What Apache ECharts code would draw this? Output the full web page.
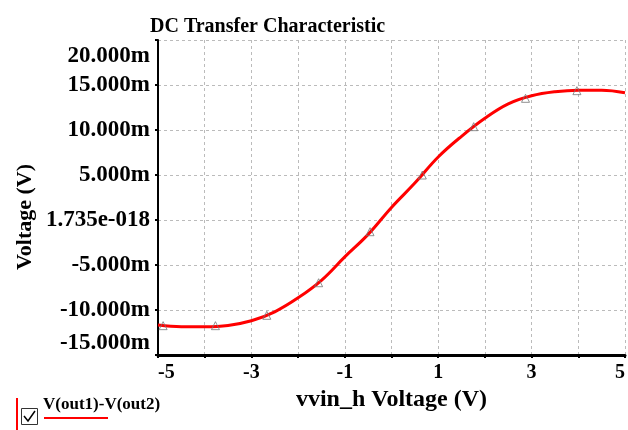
<!DOCTYPE html>
<html>
<head>
<meta charset="utf-8">
<script src="https://cdn.jsdelivr.net/npm/echarts@6/dist/echarts.min.js"></script>
<style>
html,body{margin:0;padding:0;background:#fff;}
#chart{width:628px;height:430px;}
</style>
</head>
<body>
<div id="chart"></div>
<script>
// Data (V(out1)-V(out2) in mV vs vvin_h in V)
const titleText = 'DC Transfer Characteristic';
const xAxisName = 'vvin_h Voltage (V)';
const yAxisName = 'Voltage (V)';
const seriesName = 'V(out1)-V(out2)';
const vin = [-5, -4.5, -4, -3.5, -3, -2.5, -2, -1.5, -1, -0.5, 0, 0.5, 1, 1.5, 2, 2.5, 3, 3.5, 4, 4.5, 5];
const vdiff = [-11.67, -11.85, -11.86, -11.72, -11.2, -10.2, -8.65, -6.7, -4.1, -1.6, 1.4, 4.1, 7.0, 9.3, 11.3, 12.9, 13.8, 14.25, 14.42, 14.42, 14.14];
const markerVin = [-4.89, -3.77, -2.67, -1.56, -0.46, 0.66, 1.76, 2.87, 3.97];
const markerVdiff = [-11.74, -11.74, -10.59, -6.97, -1.30, 5.0, 10.37, 13.52, 14.37];
const yZeroLabel = '1.735e-018';

const font = "'Liberation Serif', 'Times New Roman', serif";
const chart = echarts.init(document.getElementById('chart'), null, {renderer: 'canvas'});
const lineData = vin.map((x, i) => [x, vdiff[i]]);
const markData = markerVin.map((x, i) => [x, markerVdiff[i]]);
const yLabelStyle = {fontFamily: font, fontWeight: 'bold', fontSize: 23, color: '#000'};

chart.setOption({
  animation: false,
  backgroundColor: '#fff',
  title: {
    text: titleText,
    left: 145, top: 12,
    textStyle: {fontFamily: font, fontWeight: 'bold', fontSize: 20, color: '#000'}
  },
  grid: {left: 158, right: 2, top: 40, bottom: 75, containLabel: false},
  xAxis: {
    type: 'value', min: -5, max: 5, interval: 1,
    axisLine: {show: true, onZero: false, lineStyle: {color: '#000', width: 3}},
    axisTick: {show: true, length: 3, lineStyle: {color: '#000', width: 2}},
    splitLine: {show: true, lineStyle: {color: '#bbb', type: [3, 3], width: 1}},
    axisLabel: {
      fontFamily: font, fontWeight: 'bold', fontSize: 20, color: '#000', margin: 8,
      alignMinLabel: 'left', alignMaxLabel: 'right',
      formatter: v => (Math.abs(v) % 2 === 1 ? String(v) : '')
    },
    name: xAxisName, nameLocation: 'middle', nameGap: 32,
    nameTextStyle: {fontFamily: font, fontWeight: 'bold', fontSize: 24, color: '#000'}
  },
  yAxis: {
    type: 'value', min: -15, max: 20, interval: 5,
    axisLine: {show: true, onZero: false, lineStyle: {color: '#000', width: 2}},
    axisTick: {show: true, length: 3, lineStyle: {color: '#000', width: 2}},
    splitLine: {show: true, lineStyle: {color: '#bbb', type: [3, 3], width: 1}},
    axisLabel: Object.assign({}, yLabelStyle, {
      margin: 8,
      verticalAlignMinLabel: 'bottom', verticalAlignMaxLabel: 'top',
      formatter: v => {
        const t = v === 0 ? yZeroLabel : v.toFixed(3) + 'm';
        return v === 20 ? '{mx|' + t + '}' : t;
      },
      rich: {mx: Object.assign({}, yLabelStyle, {padding: [5, 0, 0, 0]})}
    })
  },
  graphic: [
    {type: 'text', x: 25, y: 217, rotation: Math.PI / 2,
     style: {text: yAxisName, fontFamily: font, fontWeight: 'bold', fontSize: 22, fill: '#000', align: 'center', verticalAlign: 'middle'}},
    {type: 'line', shape: {x1: 17, y1: 398, x2: 17, y2: 430}, style: {stroke: '#ff0000', lineWidth: 2}},
    {type: 'rect', shape: {x: 21.5, y: 408.5, width: 16, height: 16}, style: {fill: '#fff', stroke: '#333', lineWidth: 1}},
    {type: 'polyline', shape: {points: [[24, 416], [28, 421], [35, 411]]}, style: {stroke: '#000', lineWidth: 1.5, fill: null}},
    {type: 'text', x: 43, y: 405,
     style: {text: seriesName, fontFamily: font, fontWeight: 'bold', fontSize: 17, fill: '#000', align: 'left', verticalAlign: 'middle'}},
    {type: 'line', shape: {x1: 44, y1: 418, x2: 108, y2: 418}, style: {stroke: '#ff0000', lineWidth: 2}}
  ],
  series: [
    {
      name: seriesName, type: 'line', data: lineData, smooth: 0.4,
      showSymbol: false, lineStyle: {color: '#ff0000', width: 3}, z: 3
    },
    {
      name: seriesName + ' markers', type: 'scatter', data: markData,
      symbol: 'triangle', symbolSize: 8,
      itemStyle: {color: 'rgba(0,0,0,0)', borderColor: '#777', borderWidth: 1}, z: 4
    }
  ]
});
</script>
</body>
</html>
